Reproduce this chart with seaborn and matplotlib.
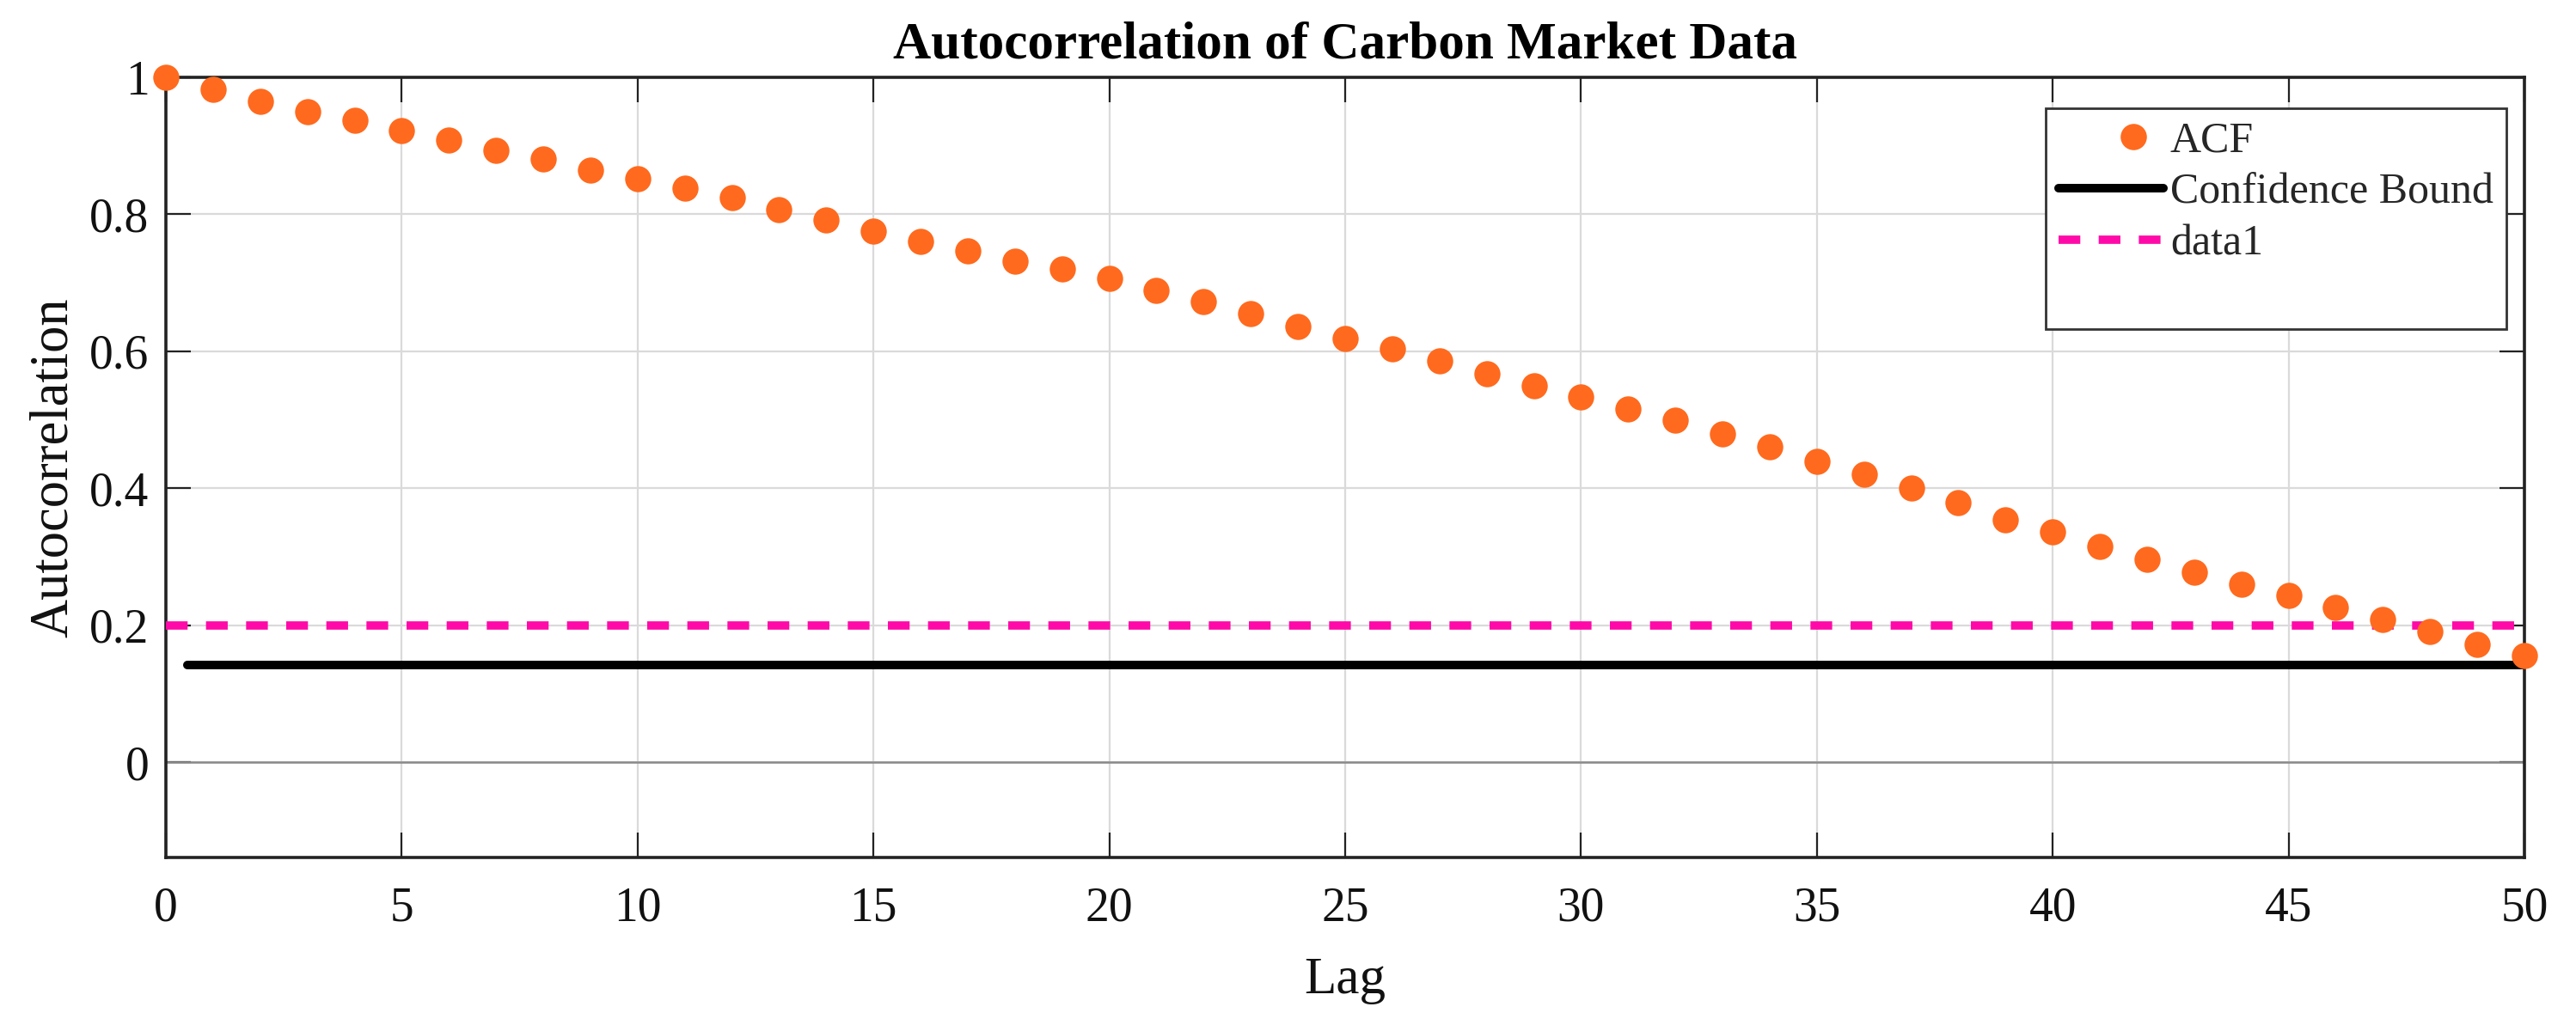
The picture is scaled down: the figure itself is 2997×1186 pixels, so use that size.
import numpy as np
import pandas as pd
import matplotlib
matplotlib.use("Agg")
import matplotlib.pyplot as plt
from matplotlib.lines import Line2D
from matplotlib.legend_handler import HandlerLine2D
import seaborn as sns

# ---- data ----
lags = list(range(0, 51))
acf_values = [1.000, 0.982, 0.965, 0.950, 0.937, 0.922, 0.908, 0.893, 0.881, 0.864,
              0.852, 0.838, 0.824, 0.807, 0.792, 0.776, 0.761, 0.747, 0.732, 0.720,
              0.706, 0.689, 0.672, 0.655, 0.636, 0.619, 0.603, 0.586, 0.567, 0.550,
              0.533, 0.516, 0.499, 0.480, 0.461, 0.439, 0.420, 0.401, 0.379, 0.354,
              0.336, 0.315, 0.296, 0.277, 0.260, 0.243, 0.226, 0.208, 0.191, 0.172,
              0.156]
bound_x = [0.45, 50]
bound_y = [0.142, 0.142]
data1_x = [0, 50]
data1_y = [0.2, 0.2]
x_ticks = list(range(0, 51, 5))
y_ticks = [0, 0.2, 0.4, 0.6, 0.8, 1.0]
y_tick_labels = ["0", "0.2", "0.4", "0.6", "0.8", "1"]

sns.set_theme(style="white")
plt.rcParams['font.family'] = ['Liberation Serif', 'DejaVu Serif']

orange = "#FF6A1E"
pink = "#FF0AA8"


class OffsetMarkerHandler(HandlerLine2D):
    """Single legend marker placed right of the handle centre (MATLAB-like)."""
    def get_xdata(self, legend, xdescent, ydescent, width, height, fontsize):
        xd = np.array([-xdescent + 0.42 * width, -xdescent + width])
        return xd, xd


fig = plt.figure(figsize=(29.97, 11.86), dpi=100)
ax = fig.add_axes([193 / 2997, 1 - 998 / 1186, 2744 / 2997, 908 / 1186])

# grid & zero line
ax.set_axisbelow(True)
ax.grid(True, color="#dadada", linewidth=1.6)
ax.axhline(0, color="#8a8a8a", linewidth=1.8, zorder=1)

df_acf = pd.DataFrame({"Lag": lags, "ACF": acf_values})
sns.scatterplot(data=df_acf, x="Lag", y="ACF", ax=ax, color=orange, s=480,
                linewidth=0, zorder=5, clip_on=False, legend=False)

df_b = pd.DataFrame({"x": bound_x, "y": bound_y})
sns.lineplot(data=df_b, x="x", y="y", ax=ax, color="black", linewidth=7.2,
             zorder=3, legend=False)
df_d = pd.DataFrame({"x": data1_x, "y": data1_y})
sns.lineplot(data=df_d, x="x", y="y", ax=ax, color=pink, linewidth=7,
             dashes=False, zorder=4, legend=False)
ax.lines[-1].set_dashes((2.6, 2.2))
ax.lines[-1].set_solid_capstyle("butt")

ax.set_xlim(0, 50)
ax.set_ylim(-0.139, 1.0)
ax.set_xticks(x_ticks)
ax.set_yticks(y_ticks)
ax.set_yticklabels(y_tick_labels)

for s in ax.spines.values():
    s.set_visible(True)
    s.set_color("#222222")
    s.set_linewidth(2.6)

ax.tick_params(axis="both", which="both", direction="in", length=21, width=1.6,
               color="#222222", labelsize=40, labelcolor="#111111",
               top=True, right=True, bottom=True, left=True)
ax.tick_params(axis="x", pad=24)
ax.tick_params(axis="y", pad=14)

ax.set_xlabel("Lag", fontsize=44, labelpad=22, color="#111111")
ax.set_ylabel("Autocorrelation", fontsize=45, labelpad=9, color="#111111")
ax.set_title("Autocorrelation of Carbon Market Data", fontsize=44,
             fontweight="bold", pad=16, color="black")

acf_handle = Line2D([], [], linestyle="none", marker="o", markersize=22,
                    markerfacecolor=orange, markeredgewidth=0, label="ACF")
handles = [
    acf_handle,
    Line2D([], [], color="black", linewidth=7.2, label="Confidence Bound"),
    Line2D([], [], color=pink, linewidth=7, linestyle=(0, (2.6, 2.2)),
           label="data1"),
    Line2D([], [], linestyle="none", label=" "),
]
leg = ax.legend(handles=handles, loc="upper left",
                bbox_to_anchor=(0.797, 0.960), bbox_transform=ax.transAxes,
                borderaxespad=0, fontsize=36, frameon=True, fancybox=False,
                handlelength=2.45, handletextpad=0.15, labelspacing=0.27,
                borderpad=0.3, framealpha=1, numpoints=1,
                handler_map={acf_handle: OffsetMarkerHandler(numpoints=1)})
leg.get_frame().set_edgecolor("#333333")
leg.get_frame().set_linewidth(2.0)

fig.savefig("out.png", dpi=100, facecolor="white")
